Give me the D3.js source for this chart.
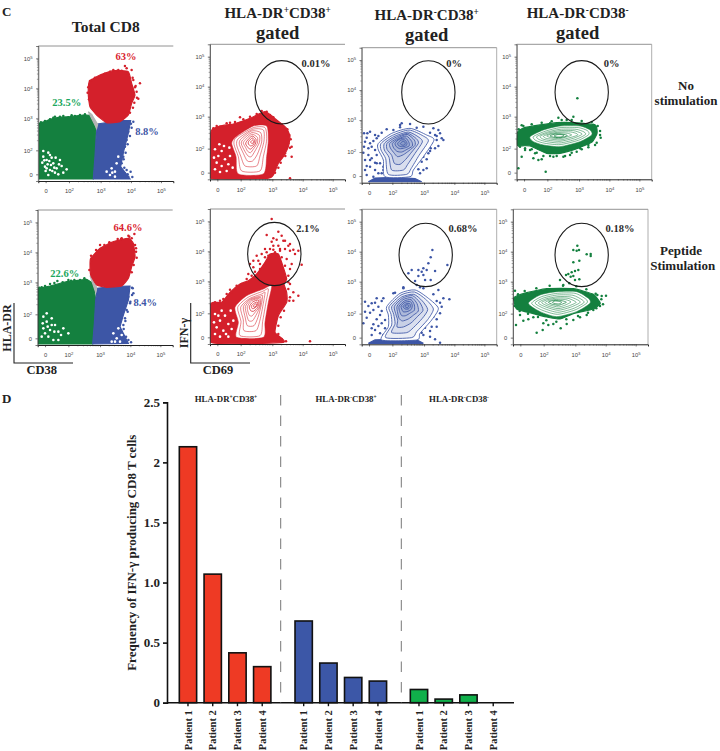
<!DOCTYPE html>
<html><head><meta charset="utf-8">
<script src="https://cdn.jsdelivr.net/npm/d3@7"></script>
<style>html,body{margin:0;padding:0;background:#fff}svg{display:block}</style>
</head><body><svg id="c" width="720" height="751"></svg>
<script>
/* ---------- Panel D: bar chart ---------- */
const patients = ["Patient 1","Patient 2","Patient 3","Patient 4"];
const groups = ["HLA-DR+CD38+","HLA-DR-CD38+","HLA-DR-CD38-"];
const drPosCd38Pos = [2.13,1.07,0.415,0.30];
const drNegCd38Pos = [0.68,0.33,0.21,0.18];
const drNegCd38Neg = [0.11,0.03,0.065,0];
const barTicks = [0,0.5,1,1.5,2,2.5];
const barTickLabels = ["0","0.5","1.0","1.5","2","2.5"];

/* ---------- Panel C: cytometry plots. All coordinates are display channels (0-405) ---------- */
const channelTicksX = [22,92,187,278,368];
const channelTicksY = [20,92,188,278,368];
const channelLabels = ["0","2","3","4","5"];

const a1Green=[[3,173],[20,178],[35,185],[60,191],[95,193],[135,198],[160,197],[168,178],[173,143],[170,73],[165,6],[3,6]];
const a1Blue=[[177,171],[205,175],[245,181],[277,181],[270,143],[257,93],[247,43],[275,6],[165,6],[170,73],[173,123]];
const a1Red=[[150,258],[153,298],[185,318],[225,331],[270,328],[280,293],[290,258],[280,233],[270,198],[245,178],[205,175],[175,198],[155,223]];
const a1Hatch=[[150,208],[175,158],[178,170],[160,200]];
const a1RedDots=[[260,345],[305,293],[300,247],[280,333],[160,303],[175,308],[190,315],[225,333],[250,331],[290,281],[295,268],[285,303],[150,281],[265,338],[235,330],[155,300],[170,310],[200,322],[215,328],[240,333],[268,322],[283,310],[292,285],[296,250],[288,235],[284,220],[275,205],[148,265],[152,245]];
const a1GreenDots=[[15,175],[35,185],[50,193],[75,195],[90,191],[8,176],[110,195],[125,198],[20,180],[45,190],[65,193],[100,197],[140,200],[5,170]];
const a1BlueDots=[[285,178],[270,148],[265,123],[260,103],[255,73],[250,53],[265,33],[260,23],[277,28],[270,13],[278,172],[268,160],[280,160],[275,135],[268,110],[262,85],[256,65],[258,40],[268,20],[282,12],[254,30]];
const a1Gaps=[[15,73],[25,63],[35,78],[45,53],[20,43],[35,33],[55,38],[65,63],[30,18],[40,70],[22,30],[50,25],[60,20],[75,25],[12,55],[48,40],[28,50],[70,45],[85,35],[18,62],[33,60],[42,30],[30,85],[15,90],[52,70],[62,50],[38,48],[25,38],[205,28],[220,38],[230,28],[235,53],[240,73],[215,18],[230,13],[222,25]];

const a2Green=[[2,170],[37,177],[87,190],[147,197],[167,185],[174,135],[170,65],[165,3],[2,3]];
const a2Blue=[[179,170],[217,175],[277,177],[272,135],[257,90],[247,55],[272,5],[165,3],[170,65],[174,135]];
const a2Red=[[157,240],[159,260],[187,290],[227,310],[272,320],[287,305],[292,265],[282,235],[272,200],[252,177],[207,173],[177,180],[159,210]];
const a2Hatch=[[157,208],[174,158],[177,172],[165,198]];
const a2RedDots=[[290,333],[282,320],[292,300],[295,280],[187,300],[162,255],[252,320],[287,260],[272,328],[240,318],[160,268],[175,285],[200,300],[215,308],[250,318],[275,325],[295,290],[297,262],[288,240],[282,218],[155,225]];
const a2GreenDots=[[59,192],[92,195],[127,195],[22,177],[12,173],[37,183],[75,188],[110,195],[5,172],[50,186],[100,193],[140,200]];
const a2BlueDots=[[287,155],[272,145],[277,125],[267,105],[262,80],[257,60],[252,40],[272,15],[262,10],[283,172],[283,150],[278,130],[270,100],[263,72],[258,48],[265,25],[280,8],[285,170]];
const a2Gaps=[[17,85],[27,70],[42,80],[17,50],[37,45],[52,60],[32,25],[62,40],[12,25],[47,15],[77,50],[92,35],[27,95],[62,15],[22,35],[42,60],[50,40],[30,55],[15,65],[70,30],[227,35],[237,20],[242,50],[247,10],[222,10],[252,30],[232,10]];

const b1Red=[[3,143],[30,160],[70,166],[120,183],[165,203],[200,178],[230,153],[240,128],[235,98],[220,68],[205,48],[190,13],[172,3],[3,3]];
const b1RedDots=[[170,203],[185,188],[245,98],[245,68],[235,108],[238,133],[225,78],[240,3],[90,186],[30,158],[10,153],[120,188],[180,193],[205,168],[220,158],[20,160],[50,168],[75,172],[100,180],[140,196],[155,205],[190,186],[215,165],[232,150],[242,120],[240,95],[226,70],[212,50],[205,35],[195,20],[60,170]];
const b1Gaps=[[15,90],[25,70],[35,85],[45,60],[20,50],[35,40],[55,45],[15,30],[30,22],[50,25],[60,70],[42,100],[68,35],[12,65],[28,105],[58,95]];
const b1Contours=[
[[78,128],[130,160],[170,160],[175,118],[170,68],[160,16],[85,16],[78,68],[65,108]],
[[78,125],[130,155],[165,155],[170,118],[160,68],[150,25],[95,25],[85,68],[72,105]],
[[85,122],[128,150],[160,148],[162,115],[150,70],[140,40],[105,40],[92,70],[80,103]],
[[92,120],[125,145],[152,140],[155,112],[142,75],[128,55],[112,55],[100,78],[88,105]],
[[98,118],[125,140],[148,132],[148,110],[135,85],[124,68],[114,70],[104,85],[94,106]],
[[104,116],[125,135],[142,126],[142,108],[131,92],[122,80],[113,84],[107,95],[100,108]],
[[110,114],[126,130],[138,120],[136,106],[128,96],[120,90],[112,98],[107,106]],
[[116,114],[127,124],[134,116],[130,104],[122,100],[115,106]],
[[122,112],[128,118],[131,112],[126,107]]];

const b2Red=[[2,120],[35,125],[60,155],[90,180],[115,190],[140,210],[165,245],[180,270],[205,270],[220,230],[230,195],[222,180],[230,155],[230,125],[205,85],[195,35],[220,5],[2,5]];
const b2RedDots=[[185,375],[205,337],[170,327],[215,325],[225,310],[200,313],[185,307],[240,300],[250,283],[265,280],[255,270],[240,280],[190,295],[205,295],[225,285],[165,285],[180,285],[155,270],[140,265],[130,250],[145,250],[120,240],[165,260],[230,255],[245,240],[275,238],[240,225],[150,225],[130,230],[135,217],[115,210],[265,145],[250,130],[250,155],[240,140],[300,8],[95,180],[65,155],[60,163],[25,117],[10,123],[40,135],[240,180],[220,310],[235,295],[210,285],[190,317],[110,195],[125,205],[150,240],[175,265],[195,275],[215,260],[225,235],[235,205],[235,185],[235,165],[238,130],[222,100],[212,80],[205,55],[205,30],[215,15],[228,8],[80,175],[50,150],[30,130],[15,125],[190,283],[210,280],[170,275],[180,262],[200,262]];
const b2Gaps=[[15,90],[30,70],[45,85],[55,60],[20,50],[40,40],[65,45],[15,30],[30,22],[55,22],[70,70],[12,65],[35,100],[62,100],[25,85],[48,30]];
const b2Contours=[
[[75,110],[110,145],[160,165],[185,175],[175,125],[165,65],[160,20],[80,20],[85,65]],
[[83,110],[114,140],[158,158],[175,165],[168,125],[158,68],[150,25],[90,25],[93,68]],
[[92,110],[118,136],[155,150],[165,155],[160,122],[150,72],[138,40],[102,40],[100,72]],
[[100,112],[120,134],[152,144],[158,145],[154,118],[144,80],[132,55],[112,55],[106,78]],
[[106,112],[122,132],[150,140],[153,135],[150,112],[140,90],[128,70],[116,70],[110,88]],
[[112,112],[125,130],[148,136],[150,122],[146,108],[136,96],[126,84],[118,86],[114,96]],
[[118,112],[128,126],[145,132],[146,118],[140,106],[130,98],[122,100]],
[[124,114],[132,122],[142,126],[142,116],[134,108],[127,106]],
[[130,114],[136,120],[140,120],[138,113],[132,110]]];

const c1Strip=[[20,3],[40,14],[100,16],[160,12],[180,3]];
const c1BlueDots=[[120,178],[145,176],[115,166],[185,168],[215,163],[230,158],[235,148],[240,133],[220,143],[225,128],[245,128],[230,110],[220,103],[207,103],[200,88],[185,78],[195,43],[180,63],[185,38],[175,28],[25,153],[17,148],[40,143],[45,133],[10,123],[25,118],[7,108],[20,103],[30,108],[40,98],[20,83],[45,83],[10,68],[30,73],[55,58],[65,48],[45,58],[65,38],[40,38],[25,48],[50,28],[60,28],[15,23],[10,38],[35,18],[7,148],[115,173],[95,158],[50,140],[60,150],[75,160],[165,165],[205,150],[225,140],[210,120],[205,95],[195,70],[170,40],[60,100],[50,110],[15,135],[35,125],[5,90],[25,68],[40,60],[15,50]];
const c1Contours=[
[[50,118],[90,148],[145,163],[195,143],[217,128],[185,78],[155,38],[145,18],[70,18],[65,68],[50,98]],
[[58,118],[92,142],[142,158],[185,140],[200,125],[172,82],[148,42],[135,25],[80,25],[72,72],[58,98]],
[[68,118],[96,138],[140,152],[172,136],[182,122],[160,88],[138,55],[125,38],[90,38],[82,76],[68,98]],
[[76,118],[100,135],[138,148],[164,132],[170,118],[150,92],[132,70],[115,55],[98,58],[90,82],[76,100]],
[[84,118],[104,132],[136,145],[158,128],[160,112],[142,96],[125,84],[108,78],[98,88],[86,104]],
[[92,118],[108,130],[134,140],[150,124],[152,110],[136,100],[120,92],[106,94],[96,104]],
[[100,118],[112,130],[132,134],[142,120],[142,110],[128,104],[114,102],[104,108]],
[[108,118],[118,128],[130,128],[136,118],[132,110],[120,108],[111,111]],
[[116,118],[124,124],[131,120],[128,113],[120,113]]];

const c2Strip=[[20,3],[40,13],[100,15],[165,13],[185,3]];
const c2BlueDots=[[212,283],[207,261],[200,243],[257,238],[220,220],[185,228],[180,218],[170,223],[150,223],[140,213],[170,205],[185,208],[195,223],[207,193],[190,193],[160,190],[165,178],[175,171],[185,168],[125,171],[230,163],[245,138],[263,135],[240,113],[235,93],[215,83],[200,68],[185,68],[170,48],[210,53],[225,53],[185,28],[205,23],[220,15],[235,5],[10,128],[30,123],[45,138],[65,138],[50,113],[35,103],[55,88],[70,73],[10,98],[60,63],[70,48],[30,48],[40,43],[55,33],[30,28],[75,38],[65,28],[5,63],[95,153],[125,168],[60,130],[40,125],[20,115],[25,95],[45,75],[60,100],[15,80],[225,130],[235,125],[215,115],[205,95],[225,75],[190,50],[205,40],[180,35],[50,55],[35,60],[100,155],[215,150]];
const c2Contours=[
[[75,113],[115,153],[160,163],[200,138],[230,108],[210,73],[175,33],[165,13],[60,13],[80,53],[80,88]],
[[82,113],[118,148],[158,157],[192,135],[215,106],[198,74],[165,38],[150,20],[72,20],[90,58],[88,90]],
[[90,113],[120,142],[156,150],[182,130],[198,104],[182,78],[155,50],[135,35],[90,35],[100,62],[96,90]],
[[98,114],[122,138],[152,146],[174,126],[184,102],[168,84],[148,64],[125,52],[106,52],[108,72],[102,92]],
[[106,114],[124,134],[150,140],[166,122],[170,100],[156,88],[140,76],[122,70],[112,78],[108,94]],
[[112,114],[128,130],[148,134],[158,118],[158,102],[146,94],[132,86],[120,86],[114,98]],
[[118,114],[130,126],[146,128],[152,116],[148,104],[136,98],[124,98]],
[[124,114],[134,122],[144,122],[147,114],[140,106],[130,106]],
[[130,115],[136,119],[142,116],[138,110],[132,111]]];

const d1Green=[[2,140],[20,154],[70,163],[120,170],[170,170],[236,163],[241,138],[226,112],[180,92],[130,78],[90,78],[40,100],[2,102]];
const d1GreenDots=[[182,243],[87,23],[170,188],[125,185],[150,178],[5,33],[15,68],[50,63],[65,58],[75,60],[160,73],[190,93],[20,160],[35,153],[250,133],[235,103],[230,163],[55,78],[40,88],[25,88],[10,98],[80,158],[100,168],[140,68],[120,70],[100,70],[180,83],[215,103],[5,108],[15,162],[45,165],[75,170],[105,174],[135,178],[165,178],[195,175],[225,172],[243,160],[250,145],[252,125],[240,110],[215,96],[195,90],[165,80],[145,70],[110,68],[80,70],[60,80],[45,90],[25,93],[8,100],[3,120],[6,150]];
const d1Contours=[
[[40,128],[80,148],[130,160],[190,160],[220,148],[225,133],[190,113],[130,98],[80,103],[50,113]],
[[50,128],[85,144],[130,155],[185,155],[212,146],[216,134],[185,117],[130,104],[85,108],[58,116]],
[[60,128],[90,141],[130,150],[178,150],[202,142],[206,134],[178,120],[130,109],[90,113],[68,119]],
[[70,129],[95,139],[130,146],[170,146],[192,139],[195,134],[170,123],[130,114],[95,117],[78,121]],
[[80,129],[100,137],[130,142],[162,142],[180,137],[182,132],[160,125],[130,118],[100,121],[88,123]],
[[90,130],[106,136],[130,139],[152,138],[165,133],[150,127],[130,122],[106,124]],
[[100,130],[112,135],[130,136],[145,134],[152,131],[142,127],[130,125],[112,126]],
[[112,130],[122,134],[135,134],[142,131],[132,127],[120,127]]];

const d2Green=[[3,140],[41,155],[101,167],[181,167],[241,150],[262,123],[241,106],[181,92],[141,76],[101,82],[61,92],[11,106]];
const d2GreenDots=[[193,296],[181,283],[191,281],[198,283],[221,270],[233,271],[233,265],[181,246],[199,251],[196,223],[186,220],[176,216],[166,211],[159,208],[181,205],[173,203],[186,193],[199,195],[141,193],[151,178],[169,183],[71,35],[89,43],[106,58],[121,61],[143,48],[161,61],[91,63],[31,71],[46,75],[61,81],[9,58],[21,88],[181,73],[201,81],[221,88],[241,103],[261,115],[279,146],[266,145],[253,148],[6,161],[15,150],[35,160],[70,168],[110,176],[150,176],[190,174],[220,165],[248,152],[265,135],[270,120],[250,108],[225,95],[195,85],[160,75],[130,68],[100,72],[75,82],[45,92],[20,100],[5,115],[3,135]];
const d2Contours=[
[[46,123],[81,148],[131,158],[191,158],[226,138],[231,123],[191,98],[131,83],[81,98]],
[[56,123],[86,143],[133,153],[186,153],[218,136],[222,124],[186,103],[133,90],[86,103]],
[[66,124],[92,139],[134,148],[180,147],[208,133],[212,124],[180,107],[134,96],[92,108]],
[[76,124],[98,136],[135,143],[172,142],[198,131],[200,124],[172,111],[135,102],[98,112]],
[[86,125],[104,134],[135,139],[165,138],[186,129],[188,124],[164,114],[135,107],[104,115]],
[[96,125],[110,132],[136,135],[158,134],[174,127],[155,117],[136,112],[110,118]],
[[106,126],[118,131],[136,132],[150,130],[160,126],[146,120],[136,117],[118,120]],
[[118,126],[126,130],[138,129],[146,126],[138,121],[126,122]]];

const RED="#d4202b", GREEN="#14803f", BLUE="#3d56a6";
const PANEL=135, CHANNELS=405;
const x=d3.scaleLinear().domain([0,CHANNELS]).range([0,PANEL]);
const y=d3.scaleLinear().domain([0,CHANNELS]).range([PANEL,0]);

const plots=[
 {at:[38.3,46],frame:"lt",areas:[[a1Green,GREEN],[a1Blue,BLUE],[a1Hatch,"#b5b5b5"],[a1Red,RED,1]],gaps:a1Gaps,dots:[[a1RedDots,RED],[a1GreenDots,GREEN],[a1BlueDots,BLUE]]},
 {at:[210,44.3],frame:"lt",areas:[[b1Red,RED,1]],gaps:b1Gaps,dots:[[b1RedDots,RED]],contours:b1Contours,col:RED,gate:[215,261]},
 {at:[361.7,47.7],frame:"ltr",areas:[[c1Strip,BLUE]],gaps:[],dots:[[c1BlueDots,BLUE]],contours:c1Contours,col:BLUE,gate:[200,271],dense:1},
 {at:[516.7,44.3],frame:"ltr",areas:[[d1Green,GREEN,1]],gaps:[],dots:[[d1GreenDots,GREEN]],contours:d1Contours,col:GREEN,gate:[195,261]},
 {at:[37.7,210],frame:"lt",areas:[[a2Green,GREEN],[a2Blue,BLUE],[a2Hatch,"#b5b5b5"],[a2Red,RED,1]],gaps:a2Gaps,dots:[[a2RedDots,RED],[a2GreenDots,GREEN],[a2BlueDots,BLUE]]},
 {at:[210,209],frame:"lt",areas:[[b2Red,RED,1]],gaps:b2Gaps,dots:[[b2RedDots,RED]],contours:b2Contours,col:RED,gate:[193,270]},
 {at:[361.7,209.3],frame:"ltr",areas:[[c2Strip,BLUE]],gaps:[],dots:[[c2BlueDots,BLUE]],contours:c2Contours,col:BLUE,gate:[192,268],dense:1},
 {at:[513,209.3],frame:"ltr",areas:[[d2Green,GREEN,1]],gaps:[],dots:[[d2GreenDots,GREEN]],contours:d2Contours,col:GREEN,gate:[206,268]}
];

const svg=d3.select("#c");
const SERIF="'Liberation Serif','DejaVu Serif',serif";
const polygon=d3.line().x(d=>x(d[0])).y(d=>y(d[1])).curve(d3.curveLinearClosed);
const smooth=d3.line().x(d=>x(d[0])).y(d=>y(d[1])).curve(d3.curveCardinalClosed.tension(0.55));
const ring=d3.line().x(d=>x(d[0])).y(d=>y(d[1])).curve(d3.curveCardinalClosed.tension(0.3));

svg.append("defs").append("clipPath").attr("id","pclip").append("rect").attr("width",PANEL).attr("height",PANEL);

function minorTicks(t){const out=[];const l=[.301,.477,.602,.699,.778,.845,.903,.954];
 for(let i=1;i<t.length-1;i++){l.forEach(f=>out.push(t[i]+(t[i+1]-t[i])*f));}
 return out;}

function axisLabels(sel){
 sel.selectAll(".tick text").each(function(d,i){
  const t=d3.select(this),s=channelLabels[i];t.text(null);
  if(s==="0"){t.text("0");return;}
  t.append("tspan").text("10");
  t.append("tspan").attr("dy",-2).attr("font-size",4.2).text(s);
 });
}

plots.forEach(p=>{
 const g=svg.append("g").attr("transform",`translate(${p.at})`);
 const m=g.append("g").attr("clip-path","url(#pclip)");
 p.areas.forEach(([pts,c,s])=>m.append("path").attr("d",(s?smooth:polygon)(pts)).attr("fill",c).attr("stroke",c).attr("stroke-width",1.2));
 p.dots.forEach(([pts,c])=>m.selectAll(null).data(pts).join("circle").attr("cx",d=>x(d[0])).attr("cy",d=>y(d[1])).attr("r",1.25).attr("fill",c));
 m.selectAll(null).data(p.gaps).join("circle").attr("cx",d=>x(d[0])).attr("cy",d=>y(d[1])).attr("r",1.3).attr("fill","#fff");
 if(p.contours){
  p.contours.forEach((r,i)=>m.append("path").attr("d",ring(r)).attr("fill",i===0?"#fff":(p.dense?p.col:"none")).attr("fill-opacity",i===0?1:.1)
     .attr("stroke",p.col).attr("stroke-width",p.dense?.85:(i>5?0.75:0.55)));
  g.append("ellipse").attr("cx",x(p.gate[0])).attr("cy",y(p.gate[1])).attr("rx",x(80)-x(0)).attr("ry",y(0)-y(95))
   .attr("fill","none").attr("stroke","#1a1a1a").attr("stroke-width",1.1);
 }
 if(p.frame.includes("t"))g.append("line").attr("x1",0).attr("x2",PANEL).attr("y1",0).attr("y2",0).attr("stroke","#777").attr("stroke-width",.8);
 if(p.frame.includes("l"))g.append("line").attr("x1",0).attr("x2",0).attr("y1",0).attr("y2",PANEL).attr("stroke","#999").attr("stroke-width",.8);
 if(p.frame.includes("r"))g.append("line").attr("x1",PANEL).attr("x2",PANEL).attr("y1",0).attr("y2",PANEL).attr("stroke","#999").attr("stroke-width",.8);

 const ax=g.append("g").attr("transform",`translate(0,${PANEL})`)
  .call(d3.axisBottom(x).tickValues(channelTicksX).tickSize(2.2).tickPadding(6).tickFormat(String));
 const ay=g.append("g").call(d3.axisLeft(y).tickValues(channelTicksY).tickSize(2.2).tickPadding(3.5).tickFormat(String));
 [ax,ay].forEach(a=>{a.select(".domain").attr("stroke","#222").attr("stroke-width",a===ax?1:.6);
  a.selectAll(".tick line").attr("stroke","#222").attr("stroke-width",.6);
  a.selectAll(".tick text").attr("font-family","'Liberation Sans',sans-serif").attr("font-size",5.8).attr("fill","#444");
  axisLabels(a);});
 ax.append("g").selectAll("line").data(minorTicks(channelTicksX)).join("line").attr("x1",d=>x(d)).attr("x2",d=>x(d)).attr("y1",0).attr("y2",1.4).attr("stroke","#222").attr("stroke-width",.4);
 ay.append("g").selectAll("line").data(minorTicks(channelTicksY)).join("line").attr("y1",d=>y(d)).attr("y2",d=>y(d)).attr("x1",0).attr("x2",-1.4).attr("stroke","#222").attr("stroke-width",.4);
});

/* ---------- text helpers ---------- */
function label(px,py,parts,size,fill,anchor,rot){
 const t=svg.append("text").attr("font-family",SERIF).attr("font-weight","bold").attr("font-size",size).attr("fill",fill||"#222")
   .attr("text-anchor",anchor||"middle");
 if(rot)t.attr("transform",`translate(${px},${py}) rotate(${rot})`);else t.attr("x",px).attr("y",py);
 let raised=false;
 [].concat(parts).forEach(s=>{
  if(Array.isArray(s)){t.append("tspan").attr("dy",-size*.32).attr("font-size",size*.62).text(s[0]);raised=true;}
  else{const ts=t.append("tspan").text(s);if(raised){ts.attr("dy",size*.32);raised=false;}}
 });
 return t;
}
const PANEL_TEXT="#2b2b2b";
label(2,16,"C",13,"#222","start");
label(2,403,"D",13,"#222","start");
label(105.7,32,"Total CD8",15.5);
label(277.7,18,["HLA-DR",["+"],"CD38",["+"]],15);
label(277.7,39,"gated",18.5);
label(426.7,20,["HLA-DR",["-"],"CD38",["+"]],15);
label(426.7,41,"gated",18.5);
label(577.7,18,["HLA-DR",["-"],"CD38",["-"]],15);
label(577.7,39,"gated",18.5);
label(686,90,"No",13);
label(686,105,"stimulation",13);
label(681,255,"Peptide",13);
label(682.7,270,"Stimulation",13);

[[126,60,"63%","#d9232e"],[66.7,106,"23.5%","#1aa75d"],[147,135,"8.8%",BLUE],
 [316,66.5,"0.01%",PANEL_TEXT],[454,66.5,"0%",PANEL_TEXT],[611.7,66.5,"0%",PANEL_TEXT],
 [128,231,"64.6%","#d9232e"],[64.7,277,"22.6%","#1aa75d"],[145.3,306,"8.4%",BLUE],
 [308,232,"2.1%",PANEL_TEXT],[463,232,"0.68%",PANEL_TEXT],[620,232,"0.18%",PANEL_TEXT]]
 .forEach(d=>label(d[0],d[1],d[2],10.5,d[3]));

/* corner axis keys */
[[14,73,"HLA-DR","CD38",11,41.7,328],[190.7,250,"IFN-\u03b3","CD69",188,218,333]].forEach(k=>{
 svg.append("path").attr("d",`M${k[0]},303V363H${k[1]}`).attr("fill","none").attr("stroke","#222").attr("stroke-width",1.1);
 label(k[4],k[6],k[2],12,"#222","middle",-90);
 label(k[5],374,k[3],12.5);
});

/* ---------- bar chart ---------- */
const barValues=[drPosCd38Pos,drNegCd38Pos,drNegCd38Neg];
const barColors=["#ee3a24","#3c57a7","#10b04b"];
const groupOffsets=[175.6,291.3,406.6];
const patientX=d3.scaleBand().domain(patients).range([0,99]).paddingInner(0.3).paddingOuter(0.15);
const barY=d3.scaleLinear().domain([0,2.5]).range([702.7,402.3]);

const yAxis=svg.append("g").attr("transform","translate(167,0)")
 .call(d3.axisLeft(barY).tickValues(barTicks).tickSize(4).tickPadding(3).tickFormat((d,i)=>barTickLabels[i]));
yAxis.select(".domain").attr("stroke","#111").attr("stroke-width",1.6);
yAxis.selectAll(".tick line").attr("stroke","#111").attr("stroke-width",1.6);
yAxis.selectAll(".tick text").attr("font-family",SERIF).attr("font-weight","bold").attr("font-size",13).attr("fill","#222");
svg.append("line").attr("x1",167).attr("x2",514).attr("y1",barY(0)).attr("y2",barY(0)).attr("stroke","#111").attr("stroke-width",1.6);

groups.forEach((gname,gi)=>{
 const g=svg.append("g").attr("transform",`translate(${groupOffsets[gi]},0)`);
 g.selectAll("rect").data(barValues[gi]).join("rect")
  .attr("x",(d,i)=>patientX(patients[i])).attr("width",patientX.bandwidth())
  .attr("y",d=>barY(d)).attr("height",d=>barY(0)-barY(d))
  .attr("fill",barColors[gi]).attr("stroke",d=>d>0?"#111":"none").attr("stroke-width",1.6);
 const ax=g.append("g").attr("transform",`translate(0,${barY(0)})`)
  .call(d3.axisBottom(patientX).tickSize(3.5).tickPadding(3));
 ax.select(".domain").remove();
 ax.selectAll(".tick line").attr("stroke","#111").attr("stroke-width",1.4);
 ax.selectAll(".tick text").attr("font-family",SERIF).attr("font-weight","bold").attr("font-size",10.5).attr("fill","#222")
  .attr("transform","rotate(-90)").attr("text-anchor","end").attr("x",-7.5).attr("y",0).attr("dy","0.35em");
});

label(226,402,["HLA-DR",["+"],"CD38",["+"]],8.8);
label(346,402,["HLA-DR",["-"],"CD38",["+"]],8.8);
label(459,402,["HLA-DR",["-"],"CD38",["-"]],8.8);
label(136,552.7,"Frequency of IFN-\u03b3 producing CD8 T cells",13,"#222","middle",-90);

[280.7,401.3].forEach(v=>svg.append("line").attr("x1",v).attr("x2",v).attr("y1",395).attr("y2",703)
 .attr("stroke","#777").attr("stroke-width",1).attr("stroke-dasharray","10.5 10"));
</script></body></html>
